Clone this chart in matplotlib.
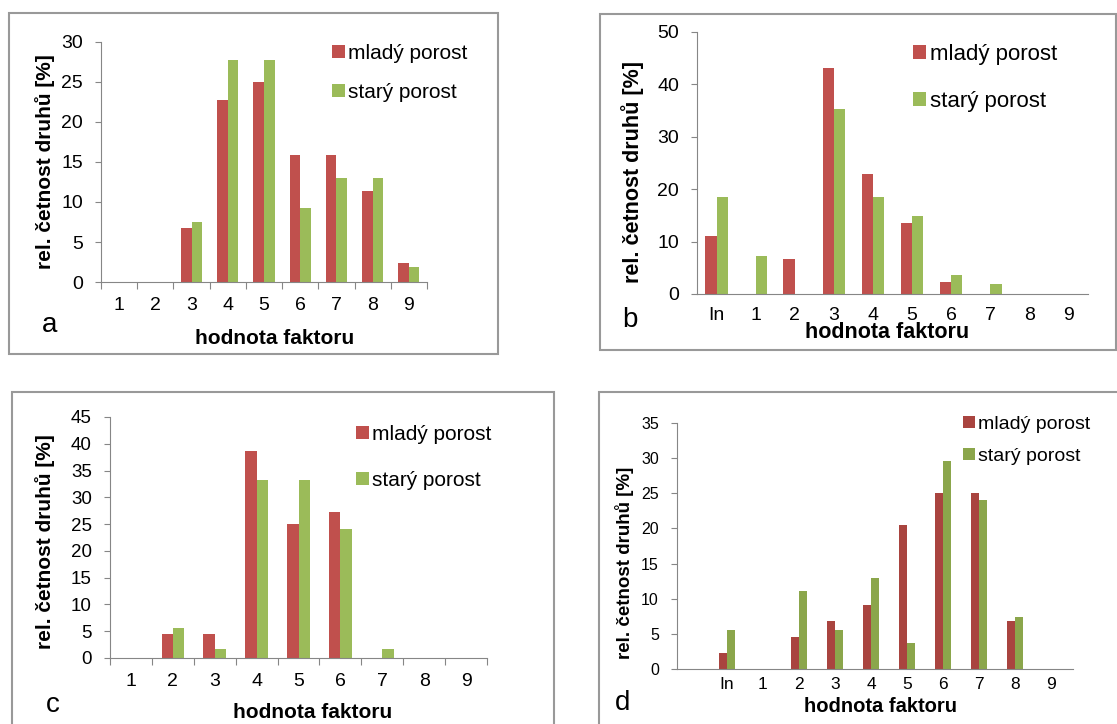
import numpy as np
import matplotlib
matplotlib.use("Agg")
import matplotlib.pyplot as plt
from matplotlib.patches import Rectangle

plt.rcParams['font.family'] = ['Liberation Sans', 'DejaVu Sans']

W, H = 1117, 724

series_names = ['mladý porost', 'starý porost']
ylabel = 'rel. četnost druhů [%]'
xlabel = 'hodnota faktoru'

# panel a
cats_a = ['1', '2', '3', '4', '5', '6', '7', '8', '9']
mlady_a = [0, 0, 6.8, 22.8, 25.0, 15.9, 15.9, 11.4, 2.4]
stary_a = [0, 0, 7.5, 27.8, 27.8, 9.3, 13.0, 13.0, 1.9]

# panel b
cats_b = ['In', '1', '2', '3', '4', '5', '6', '7', '8', '9']
mlady_b = [11.1, 0, 6.7, 43.2, 22.9, 13.5, 2.3, 0, 0, 0]
stary_b = [18.6, 7.3, 0, 35.4, 18.6, 14.8, 3.6, 1.9, 0, 0]

# panel c
cats_c = ['1', '2', '3', '4', '5', '6', '7', '8', '9']
mlady_c = [0, 4.5, 4.5, 38.6, 25.0, 27.3, 0, 0, 0]
stary_c = [0, 5.6, 1.7, 33.3, 33.3, 24.1, 1.7, 0, 0]

# panel d
cats_d = ['In', '1', '2', '3', '4', '5', '6', '7', '8', '9']
mlady_d = [2.3, 0, 4.6, 6.8, 9.1, 20.5, 25.0, 25.0, 6.8, 0]
stary_d = [5.6, 0, 11.1, 5.6, 13.0, 3.7, 29.6, 24.1, 7.4, 0]

RED, GREEN = '#C0504D', '#9BBB59'
RED_D, GREEN_D = '#A9443F', '#8BA64B'
GRAY = '#868686'

fig = plt.figure(figsize=(W / 100, H / 100), dpi=100)


def fx(px):
    return px / W


def fy(py):
    return 1 - py / H


def frame(l, t, r, b):
    fig.patches.append(Rectangle((fx(l), fy(b)), fx(r - l), (b - t) / H,
                                 transform=fig.transFigure, fill=False,
                                 edgecolor='#999999', lw=1.5))


def panel(box, cats, m, s, ymax, ystep, xlim, c1, c2, bw, boundary_ticks,
          ytick_fs, xtick_fs, xpad, lab_fs, ylab_xy, xlab_xy, leg_xy, leg_fs,
          leg_sp, letter, letter_xy):
    l, t, r, b = box
    ax = fig.add_axes([fx(l), fy(b), fx(r - l), (b - t) / H])
    x = np.arange(len(cats))
    ax.bar(x - bw / 2, m, bw, color=c1, label=series_names[0])
    ax.bar(x + bw / 2, s, bw, color=c2, label=series_names[1])
    ax.set_ylim(0, ymax)
    ax.set_xlim(*xlim)
    ax.set_yticks(np.arange(0, ymax + 0.1, ystep))
    ax.tick_params(axis='y', length=4, color=GRAY, labelsize=ytick_fs, pad=9)
    if boundary_ticks:
        ax.set_xticks(np.arange(len(cats) + 1) - 0.5)
        ax.set_xticklabels([])
        ax.set_xticks(x, minor=True)
        ax.set_xticklabels(cats, minor=True)
        ax.tick_params(axis='x', which='major', length=5, color=GRAY)
        ax.tick_params(axis='x', which='minor', length=0, labelsize=xtick_fs,
                       pad=xpad)
    else:
        ax.set_xticks(x)
        ax.set_xticklabels(cats)
        ax.tick_params(axis='x', length=0, labelsize=xtick_fs, pad=xpad)
    for sp in ['top', 'right']:
        ax.spines[sp].set_visible(False)
    for sp in ['left', 'bottom']:
        ax.spines[sp].set_color(GRAY)
    ax.set_ylabel(ylabel, fontsize=lab_fs[0], fontweight='bold')
    ax.yaxis.set_label_coords(fx(ylab_xy[0]), fy(ylab_xy[1]),
                              transform=fig.transFigure)
    ax.set_xlabel(xlabel, fontsize=lab_fs[1], fontweight='bold')
    ax.xaxis.set_label_coords(fx(xlab_xy[0]), fy(xlab_xy[1]),
                              transform=fig.transFigure)
    ax.xaxis.label.set_va('center')
    ax.yaxis.label.set_va('center')
    ax.legend(loc='upper left', bbox_to_anchor=(fx(leg_xy[0]), fy(leg_xy[1])),
              bbox_transform=fig.transFigure, frameon=False, fontsize=leg_fs,
              handlelength=0.6, handleheight=0.6, handletextpad=0.15,
              labelspacing=leg_sp, borderpad=0, borderaxespad=0)
    fig.text(fx(letter_xy[0]), fy(letter_xy[1]), letter, fontsize=20,
             ha='center', va='center')
    return ax


frame(9, 13, 498, 354)
frame(600, 14, 1116, 350)
frame(12, 392, 554, 740)
frame(599, 392, 1130, 740)

panel((101, 42, 427, 282), cats_a, mlady_a, stary_a, 30, 5, (-0.5, 8.5),
      RED, GREEN, 0.29, True, 14, 14, 11, (15, 15), (45, 162), (275, 339),
      (332, 44), 15, 0.95, 'a', (50, 325))

panel((697, 32, 1088, 294), cats_b, mlady_b, stary_b, 50, 10, (-0.5, 9.5),
      RED, GREEN, 0.29, False, 14, 14, 9, (15.5, 15.5), (633, 172),
      (887, 333), (913, 44), 16, 1.15, 'b', (630, 320))

panel((110, 417, 487, 658), cats_c, mlady_c, stary_c, 45, 5, (-0.5, 8.5),
      RED, GREEN, 0.27, True, 13.5, 14, 11, (15, 15), (45, 542), (313, 713),
      (356, 425), 15, 1.3, 'c', (53, 705))

panel((677, 423, 1073, 669), cats_d, mlady_d, stary_d, 35, 5, (-1.38, 9.6),
      RED_D, GREEN_D, 0.22, False, 11.5, 12.5, 6, (13.5, 14.5), (625, 563),
      (880, 707), (963, 416), 14, 0.75, 'd', (623, 703))

fig.savefig('out.png', dpi=100)
